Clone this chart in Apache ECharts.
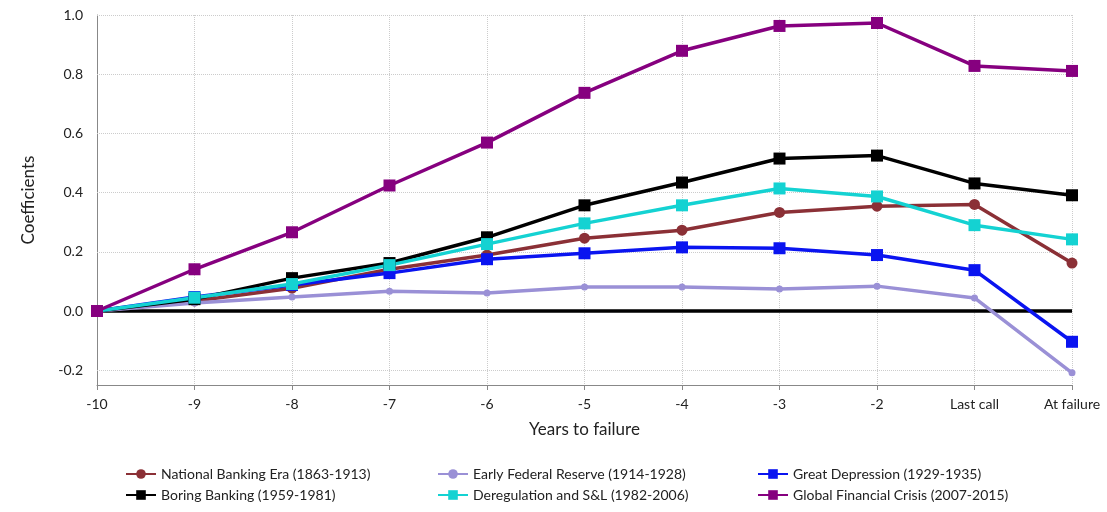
<!DOCTYPE html>
<html><head><meta charset="utf-8">
<script src="https://cdn.jsdelivr.net/npm/echarts@6/dist/echarts.min.js"></script>
<style>html,body{margin:0;padding:0;background:#fff}#c{width:1107px;height:512px}</style>
</head><body><div id="c"></div>
<script>
const categories = ['-10','-9','-8','-7','-6','-5','-4','-3','-2','Last call','At failure'];
const yTicks = [-0.2,0,0.2,0.4,0.6,0.8,1.0];
const nationalBanking = [0,0.034,0.077,0.141,0.189,0.246,0.273,0.333,0.354,0.360,0.162];
const earlyFed = [0,0.027,0.047,0.067,0.061,0.081,0.081,0.074,0.084,0.044,-0.209];
const greatDepression = [0,0.047,0.088,0.128,0.175,0.195,0.215,0.212,0.189,0.138,-0.104];
const boringBanking = [0,0.040,0.111,0.162,0.249,0.357,0.434,0.515,0.525,0.431,0.391];
const deregulation = [0,0.045,0.091,0.155,0.226,0.296,0.357,0.414,0.387,0.290,0.242];
const gfc = [0,0.141,0.266,0.424,0.569,0.737,0.879,0.963,0.973,0.828,0.811];
const zeroLine = categories.map(() => 0);

const names = ['National Banking Era (1863-1913)','Early Federal Reserve (1914-1928)','Great Depression (1929-1935)',
               'Boring Banking (1959-1981)','Deregulation and S&L (1982-2006)','Global Financial Crisis (2007-2015)'];

const chart = echarts.init(document.getElementById('c'));
const font = 'Lato';
function s(name, data, color, symbol, size, width) {
  return { name, type: 'line', data, symbol, symbolSize: size, showSymbol: true,
    lineStyle: { color, width }, itemStyle: { color }, z: 3 };
}
function leg(data, left) {
  return { data, left, top: 462, orient: 'vertical', itemGap: 7, itemWidth: 30, itemHeight: 12,
    textStyle: { fontSize: 14, color: '#222' } };
}
const isTick = v => yTicks.some(t => Math.abs(t - v) < 1e-6);
chart.setOption({
  animation: false,
  textStyle: { fontFamily: font },
  grid: { left: 97, right: 35, top: 15, bottom: 127 },
  legend: [leg([names[0], names[3]], 120), leg([names[1], names[4]], 432), leg([names[2], names[5]], 752)],
  xAxis: {
    type: 'category', data: categories, boundaryGap: false,
    name: 'Years to failure', nameLocation: 'middle', nameGap: 36,
    nameTextStyle: { fontSize: 17, color: '#222' },
    axisLine: { onZero: false, lineStyle: { color: '#888' } },
    axisTick: { show: true, alignWithLabel: true, lineStyle: { color: '#888' } },
    axisLabel: { fontSize: 14, color: '#222', interval: 0, margin: 12 },
    splitLine: { show: true, lineStyle: { type: 'dotted', color: '#ccc' } }
  },
  yAxis: {
    type: 'value', min: -0.25, max: 1.0, interval: 0.05,
    name: 'Coefficients', nameLocation: 'middle', nameGap: 60,
    nameTextStyle: { fontSize: 17, color: '#222' },
    axisLine: { show: true, lineStyle: { color: '#888' } },
    axisTick: { show: false },
    axisLabel: { fontSize: 14, color: '#222', margin: 14, formatter: v => isTick(v) ? v.toFixed(1) : '' },
    splitLine: { show: false }
  },
  series: [
    { type: 'line', data: zeroLine, symbol: 'none', lineStyle: { color: '#000', width: 3.5 }, z: 2, silent: true,
      markLine: { silent: true, symbol: 'none', label: { show: false }, z: 1,
        lineStyle: { type: 'dotted', color: '#ccc', width: 1 },
        data: yTicks.filter(t => t !== 0).map(t => ({ yAxis: t })) } },
    s(names[0], nationalBanking, '#8b3036', 'circle', 11, 3.5),
    s(names[1], earlyFed, '#9a90d6', 'circle', 7, 3.5),
    s(names[2], greatDepression, '#0a14f0', 'rect', 12, 3.5),
    s(names[3], boringBanking, '#000000', 'rect', 12, 3.5),
    s(names[4], deregulation, '#14d2d2', 'rect', 12, 3.5),
    s(names[5], gfc, '#86007f', 'rect', 12, 3.5)
  ]
});
</script></body></html>
